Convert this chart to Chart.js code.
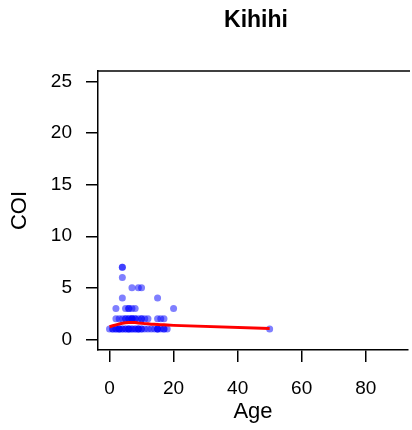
<!DOCTYPE html>
<html>
<head>
<meta charset="utf-8">
<title>Kihihi</title>
<script src="https://cdn.jsdelivr.net/npm/chart.js@4/dist/chart.umd.min.js"></script>
<style>
    html, body { margin: 0; padding: 0; background: #fff; }
    #wrap { width: 412px; height: 430px; position: relative; }
</style>
</head>
<body>
<div id="wrap"><canvas id="coiChart" width="412" height="430"></canvas></div>
<script>
// Observations: age (years) and COI, one entry per sample
const ageValues = [
    0, 1, 1, 2, 2, 3, 3, 3, 4, 4, 5, 5, 6, 6, 6, 7, 7, 8, 8, 9, 9, 9, 10, 10, 11, 12, 13, 14, 15, 15, 15, 16, 17, 17, 18, 50,
    2, 3, 4, 5, 5, 6, 6, 7, 7, 7, 8, 8, 9, 10, 10, 11, 12, 15, 16, 17,
    2, 5, 6, 6, 7, 8, 20,
    4, 15,
    7, 9, 10,
    4,
    4, 4
];
const coiValues = [
    1, 1, 1, 1, 1, 1, 1, 1, 1, 1, 1, 1, 1, 1, 1, 1, 1, 1, 1, 1, 1, 1, 1, 1, 1, 1, 1, 1, 1, 1, 1, 1, 1, 1, 1, 1,
    2, 2, 2, 2, 2, 2, 2, 2, 2, 2, 2, 2, 2, 2, 2, 2, 2, 2, 2, 2,
    3, 3, 3, 3, 3, 3, 3,
    4, 4,
    5, 5, 5,
    6,
    7, 7
];

// Smoothed trend (lowess) evaluated along age
const smoothAge = [0, 1, 2, 3, 4, 5, 6, 7, 8, 9, 10, 11, 12, 13, 14, 15, 16, 17, 18, 20, 50];
const smoothCOI = [1.22, 1.31, 1.4, 1.48, 1.55, 1.6, 1.63, 1.64, 1.62, 1.58, 1.55, 1.52, 1.5, 1.47, 1.45, 1.43, 1.41, 1.4, 1.38, 1.35, 1.04];

const xTicks = [0, 20, 40, 60, 80];
const yTicks = [0, 5, 10, 15, 20, 25];

const FONT = '"Liberation Sans", Arial, Helvetica, sans-serif';

// top edge of the plot box plus the heading
const frameAndTitle = {
    id: 'frameAndTitle',
    afterDraw(chart) {
        const { ctx, chartArea } = chart;
        ctx.save();
        ctx.strokeStyle = '#000';
        ctx.lineWidth = 1.5;
        ctx.beginPath();
        ctx.moveTo(chartArea.left, chartArea.top);
        ctx.lineTo(chartArea.right + 2, chartArea.top);
        ctx.stroke();

        ctx.fillStyle = '#000';
        ctx.font = `bold 23px ${FONT}`;
        ctx.textAlign = 'center';
        ctx.textBaseline = 'middle';
        ctx.fillText('Kihihi', 256, 21);
        ctx.restore();
    }
};

function buildChart() {
    const ctx = document.getElementById('coiChart').getContext('2d');
    const points = ageValues.map((age, i) => ({ x: age, y: coiValues[i] }));
    const trend = smoothAge.map((age, i) => ({ x: age, y: smoothCOI[i] }));

    new Chart(ctx, {
        type: 'scatter',
        data: {
            datasets: [{
                type: 'line',
                data: trend,
                borderColor: '#ff0000',
                borderWidth: 3,
                pointRadius: 0,
                fill: false,
                tension: 0,
                order: 0
            }, {
                data: points,
                backgroundColor: 'rgba(0, 0, 255, 0.5)',
                borderWidth: 0,
                pointRadius: 3.5,
                order: 1
            }]
        },
        options: {
            responsive: false,
            animation: false,
            layout: { padding: { top: 71, right: 0, left: 0, bottom: 0 } },
            plugins: {
                legend: { display: false },
                tooltip: { enabled: false },
                title: { display: false }
            },
            scales: {
                x: {
                    type: 'linear',
                    min: -3.6,
                    max: 93.2,
                    afterBuildTicks: scale => { scale.ticks = xTicks.map(v => ({ value: v })); },
                    afterFit: scale => { scale.height = 80; },
                    border: { display: true, color: '#000', width: 1.5 },
                    grid: { drawOnChartArea: false, drawTicks: true, tickLength: 12, color: '#000', lineWidth: 1.5 },
                    ticks: { color: '#000', font: { family: FONT, size: 19 }, padding: 15, maxRotation: 0 },
                    title: { display: true, text: 'Age', color: '#000', font: { family: FONT, size: 22 }, padding: { top: 0, bottom: 5 } }
                },
                y: {
                    type: 'linear',
                    min: -1.04,
                    max: 26.04,
                    afterBuildTicks: scale => { scale.ticks = yTicks.map(v => ({ value: v })); },
                    afterFit: scale => { scale.width = 98; },
                    border: { display: true, color: '#000', width: 1.5 },
                    grid: { drawOnChartArea: false, drawTicks: true, tickLength: 12, color: '#000', lineWidth: 1.5 },
                    ticks: { color: '#000', font: { family: FONT, size: 19 }, padding: 14 },
                    title: { display: true, text: 'COI', color: '#000', font: { family: FONT, size: 22 }, padding: { top: 7, bottom: 0 } }
                }
            }
        },
        plugins: [frameAndTitle]
    });
}

document.addEventListener('DOMContentLoaded', buildChart);
</script>
</body>
</html>
